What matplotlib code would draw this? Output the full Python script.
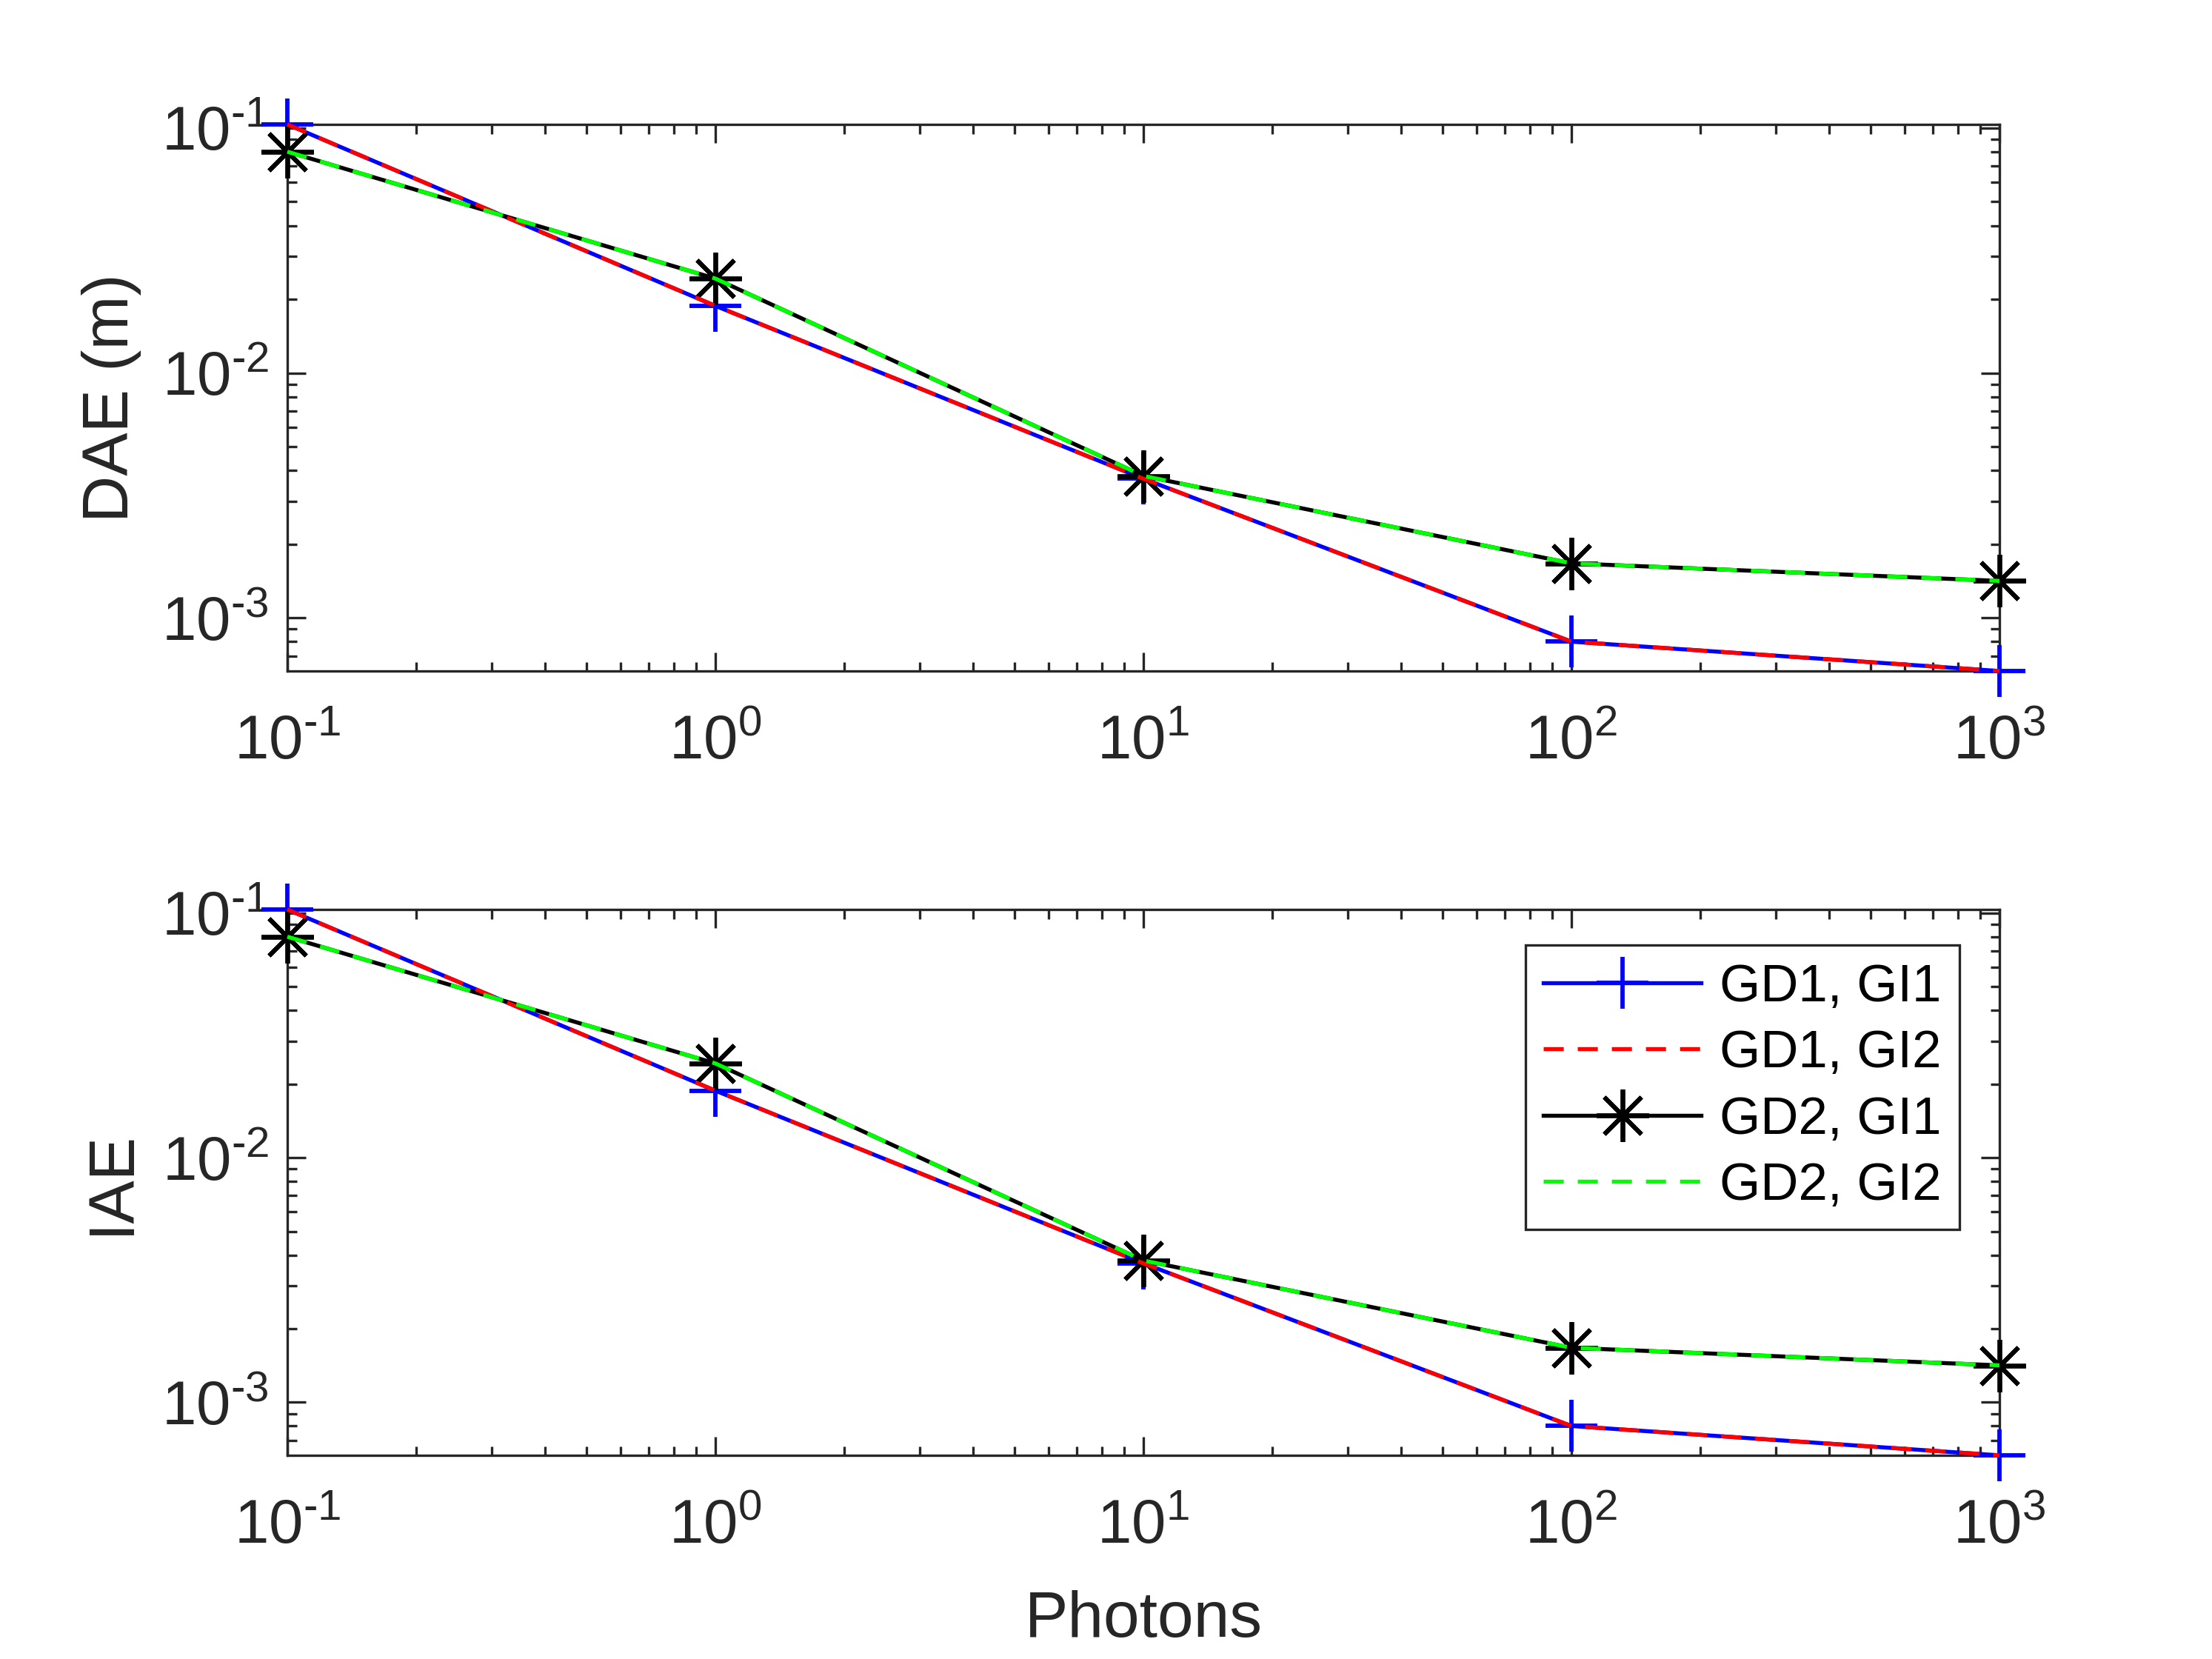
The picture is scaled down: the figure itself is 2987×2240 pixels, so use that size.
import matplotlib
matplotlib.use('Agg')
from matplotlib import pyplot as plt
from matplotlib.ticker import LogLocator, FuncFormatter, NullFormatter
import numpy as np

plt.rcParams['font.family'] = ['Liberation Sans', 'DejaVu Sans']
plt.rcParams['mathtext.fontset'] = 'custom'
plt.rcParams['mathtext.rm'] = 'Liberation Sans'
plt.rcParams['mathtext.it'] = 'Liberation Sans'
plt.rcParams['mathtext.bf'] = 'Liberation Sans'

# data
photons = [0.1, 1, 10, 100, 1000]

dae_gd1_gi1 = [0.1035, 0.0188, 0.0037, 0.00080, 0.000607]
dae_gd1_gi2 = [0.1035, 0.0188, 0.0037, 0.00080, 0.000607]
dae_gd2_gi1 = [0.0801, 0.0243, 0.0038, 0.00167, 0.001416]
dae_gd2_gi2 = [0.0801, 0.0243, 0.0038, 0.00167, 0.001416]

iae_gd1_gi1 = [0.1035, 0.0188, 0.0037, 0.00080, 0.000607]
iae_gd1_gi2 = [0.1035, 0.0188, 0.0037, 0.00080, 0.000607]
iae_gd2_gi1 = [0.0801, 0.0243, 0.0038, 0.00167, 0.001416]
iae_gd2_gi2 = [0.0801, 0.0243, 0.0038, 0.00167, 0.001416]

labels = ['GD1, GI1', 'GD1, GI2', 'GD2, GI1', 'GD2, GI2']

axc = '#262626'
W, H = 2987, 2240
fig = plt.figure(figsize=(W / 300, H / 300), dpi=300)

ax1 = fig.add_axes([388 / W, 1 - 906 / H, (2700 - 388) / W, (906 - 168) / H])
ax2 = fig.add_axes([388 / W, 1 - 1965 / H, (2700 - 388) / W, (1965 - 1228) / H])

star = (8, 2, 0)
dash = (5, 3.5)
lw = 1.3


def sup(v, pos):
    e = int(round(np.log10(v)))
    if e < 0:
        return r'$10^{\text{-}%d}$' % (-e)
    return r'$10^{%d}$' % e


def draw(ax, s1, s2, s3, s4, ylab):
    ax.plot(photons, s1, color=(0, 0, 1), lw=lw, marker='+', ms=17, mew=1.4,
            clip_on=False, label=labels[0], zorder=3)
    ax.plot(photons, s2, color=(1, 0, 0), lw=lw, ls=(0, dash),
            clip_on=False, label=labels[1], zorder=4)
    ax.plot(photons, s3, color='k', lw=lw, marker=star, ms=17, mew=1.4,
            clip_on=False, label=labels[2], zorder=3)
    ax.plot(photons, s4, color=(0, 1, 0), lw=lw, ls=(0, dash),
            clip_on=False, label=labels[3], zorder=4)
    ax.set_xscale('log')
    ax.set_yscale('log')
    ax.set_xlim(0.1, 1000)
    allv = s1 + s2 + s3 + s4
    ax.set_ylim(min(allv), max(allv))
    ax.xaxis.set_major_locator(LogLocator(base=10, numticks=10))
    ax.yaxis.set_major_locator(LogLocator(base=10, numticks=10))
    ax.xaxis.set_minor_locator(LogLocator(base=10, subs=np.arange(2, 10), numticks=20))
    ax.yaxis.set_minor_locator(LogLocator(base=10, subs=np.arange(2, 10), numticks=20))
    ax.xaxis.set_major_formatter(FuncFormatter(sup))
    ax.yaxis.set_major_formatter(FuncFormatter(sup))
    ax.xaxis.set_minor_formatter(NullFormatter())
    ax.yaxis.set_minor_formatter(NullFormatter())
    ax.tick_params(which='both', direction='in', top=True, right=True,
                   color=axc, labelcolor=axc, width=0.8, labelsize=20)
    ax.tick_params(which='major', length=6)
    ax.tick_params(which='minor', length=3)
    ax.tick_params(axis='x', which='major', pad=14)
    ax.tick_params(axis='y', which='major', pad=6)
    for sp in ax.spines.values():
        sp.set_color(axc)
        sp.set_linewidth(0.8)
    ax.set_ylabel(ylab, fontsize=21, color=axc)
    ax.yaxis.set_label_coords(-0.085, 0.5)


draw(ax1, dae_gd1_gi1, dae_gd1_gi2, dae_gd2_gi1, dae_gd2_gi2, 'DAE (m)')
draw(ax2, iae_gd1_gi1, iae_gd1_gi2, iae_gd2_gi1, iae_gd2_gi2, 'IAE')
ax2.set_xlabel('Photons', fontsize=21, color=axc, labelpad=11)

leg = ax2.legend(loc='upper right', bbox_to_anchor=(1 - 54 / 2312, 1 - 48 / 737),
                 fontsize=17, frameon=True, fancybox=False, framealpha=1,
                 edgecolor=axc, handlelength=3.0, handletextpad=0.35,
                 labelspacing=0.33, borderpad=0.35, borderaxespad=0)
leg.get_frame().set_linewidth(0.8)

plt.savefig('out.png', dpi=300)
